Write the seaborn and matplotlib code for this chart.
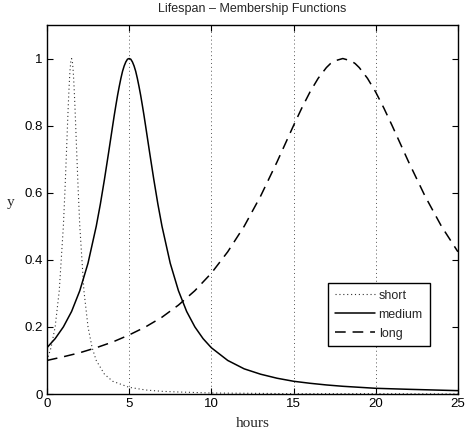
import matplotlib

matplotlib.use("Agg")

import matplotlib.pyplot as plt
import seaborn as sns

# values
short_x = [0, 0.25, 0.5, 0.75, 1.0, 1.1, 1.2, 1.25, 1.3, 1.35, 1.4, 1.45, 1.5, 1.55, 1.6,
           1.65, 1.7, 1.75, 1.8, 1.9, 2.0, 2.25, 2.5, 2.75, 3.0, 3.5, 4, 5, 6, 7, 8, 10,
           12.5, 15, 20, 25]
short_y = [0.100, 0.138, 0.200, 0.308, 0.500, 0.610, 0.735, 0.800, 0.862, 0.917, 0.962,
           0.990, 1.000, 0.990, 0.962, 0.917, 0.862, 0.800, 0.735, 0.610, 0.500, 0.308,
           0.200, 0.138, 0.100, 0.059, 0.038, 0.020, 0.012, 0.008, 0.006, 0.003, 0.002,
           0.001, 0.001, 0.000]

medium_x = [0, 0.5, 1, 1.5, 2, 2.5, 3, 3.25, 3.5, 3.75, 4, 4.1, 4.2, 4.3, 4.4, 4.5, 4.6,
            4.7, 4.8, 4.9, 5, 5.1, 5.2, 5.3, 5.4, 5.5, 5.6, 5.7, 5.8, 5.9, 6, 6.25, 6.5,
            6.75, 7, 7.5, 8, 8.5, 9, 9.5, 10, 11, 12, 13, 14, 15, 16, 17, 18, 19, 20,
            22, 25]
medium_y = [0.138, 0.165, 0.200, 0.246, 0.308, 0.390, 0.500, 0.566, 0.640, 0.719, 0.800,
            0.832, 0.862, 0.891, 0.917, 0.941, 0.962, 0.978, 0.990, 0.998, 1.000, 0.998,
            0.990, 0.978, 0.962, 0.941, 0.917, 0.891, 0.862, 0.832, 0.800, 0.719, 0.640,
            0.566, 0.500, 0.390, 0.308, 0.246, 0.200, 0.165, 0.138, 0.100, 0.075, 0.059,
            0.047, 0.038, 0.032, 0.027, 0.023, 0.020, 0.017, 0.014, 0.010]

long_x = [0, 1, 2, 3, 4, 5, 6, 7, 8, 9, 10, 11, 12, 13, 14, 15, 15.5, 16, 16.5, 17,
          17.25, 17.5, 18, 18.5, 18.75, 19, 19.5, 20, 20.5, 21, 22, 23, 24, 25]
long_y = [0.100, 0.111, 0.123, 0.138, 0.155, 0.176, 0.200, 0.229, 0.265, 0.308, 0.360,
          0.424, 0.500, 0.590, 0.692, 0.800, 0.852, 0.900, 0.941, 0.973, 0.985, 0.993,
          1.000, 0.993, 0.985, 0.973, 0.941, 0.900, 0.852, 0.800, 0.692, 0.590, 0.500,
          0.424]

x_ticks = [0, 5, 10, 15, 20, 25]
y_ticks = [0, 0.2, 0.4, 0.6, 0.8, 1]
y_tick_labels = ["0", "0.2", "0.4", "0.6", "0.8", "1"]

sns.set_style("ticks")
plt.rcParams["font.family"] = ["Liberation Sans", "DejaVu Sans"]
plt.rcParams["font.size"] = 9

fig = plt.figure(figsize=(4.74, 4.43), dpi=100)
ax = fig.add_axes([0.099, 0.1106, 0.867, 0.833])

sns.lineplot(x=short_x, y=short_y, ax=ax, color="#333333", linestyle=(0, (1, 2.5)), linewidth=0.8, label="short")
sns.lineplot(x=medium_x, y=medium_y, ax=ax, color="black", linestyle="-", linewidth=1.1, label="medium")
sns.lineplot(x=long_x, y=long_y, ax=ax, color="black", linestyle=(0, (7, 4.5)), linewidth=1.1, label="long")

ax.set_xlim(0, 25)
ax.set_ylim(0, 1.1)
ax.set_xticks(x_ticks)
ax.set_xticklabels([str(t) for t in x_ticks])
ax.set_yticks(y_ticks)
ax.set_yticklabels(y_tick_labels)
ax.tick_params(direction="in", top=True, right=True, length=4, width=0.8, colors="black", labelsize=9.5, pad=3)
ax.grid(axis="x", linestyle=(0, (1, 3)), color="#555555", linewidth=0.7)
for spine in ax.spines.values():
    spine.set_visible(True)
    spine.set_color("black")
    spine.set_linewidth(1.0)

ax.set_title("Lifespan \u2013 Membership Functions", fontsize=9, pad=9)
ax.set_xlabel("hours", family="Liberation Serif", fontsize=11, labelpad=5)
ax.set_ylabel("y", family="Liberation Serif", fontsize=11, rotation=0, labelpad=10)

leg = ax.legend(loc="upper left", bbox_to_anchor=(0.684, 0.301), borderaxespad=0,
                fancybox=False, framealpha=1, edgecolor="black", handlelength=3.2,
                handletextpad=0.3, labelspacing=0.55, borderpad=0.55, fontsize=9)
leg.get_frame().set_linewidth(1.0)

fig.savefig("out.png", dpi=100)
plt.close(fig)
